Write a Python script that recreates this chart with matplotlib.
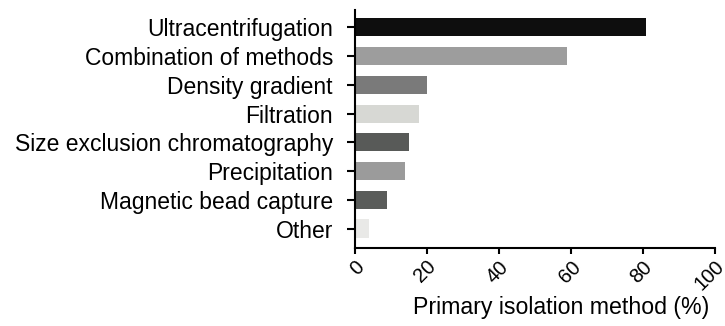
import numpy as np
from matplotlib import pyplot as plt

# primary isolation methods, top to bottom
methods = ["Ultracentrifugation", "Combination of methods", "Density gradient",
           "Filtration", "Size exclusion chromatography", "Precipitation",
           "Magnetic bead capture", "Other"]
percent = [81, 59, 20, 18, 15, 14, 9, 4]
shades = ["#0e0e0e", "#9d9d9d", "#7a7a7a", "#d7d8d4",
          "#585a58", "#9b9b9b", "#5a5c5a", "#e9e9e7"]
x_ticks = [0, 20, 40, 60, 80, 100]

plt.rcParams['font.family'] = ['Liberation Sans', 'DejaVu Sans']

fig = plt.figure(figsize=(7.25, 3.26), dpi=100)
ax = fig.add_axes([0.489, 0.239, 0.497, 0.730])

y = np.arange(len(methods))
ax.barh(y, percent, height=0.63, color=shades, edgecolor="none")

ax.set_ylim(len(methods) - 1 + 0.68, -0.6)
ax.set_xlim(0, 100)
ax.set_yticks(y)
ax.set_yticklabels(methods, fontsize=16.5)
ax.set_xticks(x_ticks)
ax.set_xticklabels([str(t) for t in x_ticks], fontsize=14.5, rotation=45,
                   ha="right", va="top", rotation_mode="anchor")
ax.set_xlabel("Primary isolation method (%)", fontsize=16.7, va="top")
ax.xaxis.set_label_coords(0.574, -0.2)

for side in ["top", "right"]:
    ax.spines[side].set_visible(False)
for side in ["left", "bottom"]:
    ax.spines[side].set_linewidth(1.5)
ax.tick_params(axis="y", length=6, width=1.5, pad=9.5)
ax.tick_params(axis="x", length=4, width=1.5, pad=2.5)

plt.savefig("out.png", dpi=100)
